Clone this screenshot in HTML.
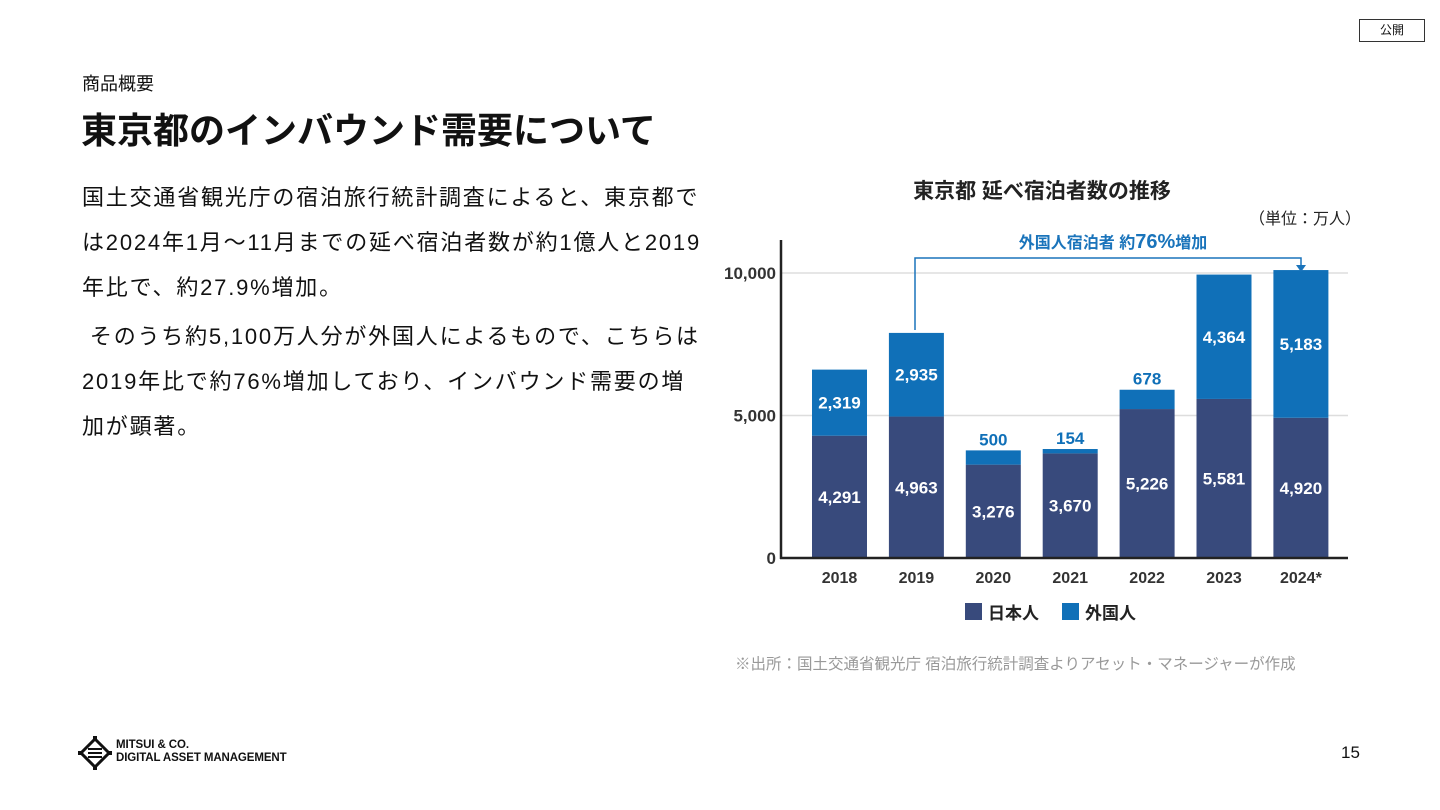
<!DOCTYPE html>
<html><head><meta charset="utf-8">
<style>
body{margin:0;width:1440px;height:810px;background:#fff;font-family:"Liberation Sans","Noto Sans CJK JP",sans-serif;color:#111;position:relative;overflow:hidden}
.abs{position:absolute}
#txt p{margin:0;font-size:22px;line-height:45px;white-space:nowrap;letter-spacing:1.8px}
</style></head><body>
<div class="abs" style="left:1359px;top:19px;width:66px;height:23px;border:1px solid #333;box-sizing:border-box;font-size:12px;text-align:center;line-height:21px">公開</div>
<div class="abs" style="left:82px;top:70px;font-size:18px">商品概要</div>
<div class="abs" style="left:81px;top:102px;font-size:36px;font-weight:bold">東京都のインバウンド需要について</div>
<div id="txt" class="abs" style="left:82px;top:175px;width:640px">
<p>国土交通省観光庁の宿泊旅行統計調査によると、東京都で<br>は2024年1月～11月までの延べ宿泊者数が約1億人と2019<br>年比で、約27.9%増加。</p>
<p style="margin-top:4px">&nbsp;そのうち約5,100万人分が外国人によるもので、こちらは<br>2019年比で約76%増加しており、インバウンド需要の増<br>加が顕著。</p>
</div>
<svg class="abs" style="left:0;top:0" width="1440" height="810" id="chart">
<text x="1042" y="198" text-anchor="middle" font-size="21" font-weight="bold" fill="#222">東京都 延べ宿泊者数の推移</text>
<text x="1361" y="224" text-anchor="end" font-size="16" fill="#222">（単位：万人）</text>
<g id="grid"></g><g id="bars"></g>
<line x1="781" y1="240" x2="781" y2="559" stroke="#222" stroke-width="2.5"/>
<line x1="780" y1="558" x2="1348" y2="558" stroke="#222" stroke-width="2.5"/>
<path d="M915 330 V258 H1301 V268" fill="none" stroke="#1a74bb" stroke-width="1.5"/>
<path d="M1296 265 L1306 265 L1301 272 Z" fill="#1a74bb"/>
<text x="1113" y="248" text-anchor="middle" font-size="16" font-weight="bold" fill="#1a74bb">外国人宿泊者 約<tspan font-size="20">76%</tspan>増加</text>
<rect x="965" y="603" width="17" height="17" fill="#384a7c"/>
<text x="988" y="619" font-size="17" font-weight="bold" fill="#222">日本人</text>
<rect x="1062" y="603" width="17" height="17" fill="#1070b8"/>
<text x="1085" y="619" font-size="17" font-weight="bold" fill="#222">外国人</text>
</svg>
<div class="abs" style="left:735px;top:652px;font-size:15.5px;color:#999;white-space:nowrap">※出所：国土交通省観光庁 宿泊旅行統計調査よりアセット・マネージャーが作成</div>
<svg class="abs" style="left:78px;top:736px" width="34" height="34">
<g fill="none" stroke="#111" stroke-width="3"><path d="M17 3 L31 17 L17 31 L3 17 Z"/><path d="M10 13 H24 M10 17 H24 M10 21 H24" stroke-width="2"/></g>
<path d="M15 0 h4 v4 h-4Z M15 30 h4 v4 h-4Z M0 15 h4 v4 h-4Z M30 15 h4 v4 h-4Z" fill="#111"/>
</svg>
<div class="abs" style="left:116px;top:739px;font-size:11.5px;font-weight:bold;line-height:13px;letter-spacing:-0.1px">MITSUI &amp; CO.<br>DIGITAL ASSET MANAGEMENT</div>
<div class="abs" style="left:1341px;top:743px;font-size:17px">15</div>
<script>
const years=["2018","2019","2020","2021","2022","2023","2024*"];
const japanese=[4291,4963,3276,3670,5226,5581,4920];
const foreign=[2319,2935,500,154,678,4364,5183];
const yTicks=[0,5000,10000];
const NS="http://www.w3.org/2000/svg";
function y(v){return 558-v*0.0285;}
function xc(i){return 839.5+i*76.9;}
function mk(t,a,p){const e=document.createElementNS(NS,t);for(const k in a)e.setAttribute(k,a[k]);p.appendChild(e);return e;}
const grid=document.getElementById('grid'),bars=document.getElementById('bars');
yTicks.forEach(v=>{
  if(v>0){const l=mk('line',{x1:782,x2:1348,y1:y(v),y2:y(v),stroke:'#ddd','stroke-width':1.5},grid);
  
  }
  const t=mk('text',{x:776,y:y(v)+6,'text-anchor':'end','font-size':17,'font-weight':'bold',fill:'#333'},grid);
  t.textContent=v.toLocaleString('en-US');
  
  
});
years.forEach((yr,i)=>{
  const x=xc(i)-27.5,j=japanese[i],f=foreign[i];
  const r1=mk('rect',{x:x,y:y(j),width:55,height:y(0)-y(j),fill:'#384a7c'},bars);
  
  
  const r2=mk('rect',{x:x,y:y(j+f),width:55,height:y(j)-y(j+f),fill:'#1070b8'},bars);
  
  
  const t1=mk('text',{x:xc(i),y:(y(0)+y(j))/2+6,'text-anchor':'middle','font-size':17,'font-weight':'bold',fill:'#fff'},bars);
  t1.textContent=j.toLocaleString('en-US');
  
  
  const small=(y(j)-y(j+f))<22;
  const t2=mk('text',{x:xc(i),y:small?y(j+f)-5:(y(j)+y(j+f))/2+6,'text-anchor':'middle','font-size':17,'font-weight':'bold',fill:small?'#1070b8':'#fff'},bars);
  t2.textContent=f.toLocaleString('en-US');
  
  
  const t3=mk('text',{x:xc(i),y:583,'text-anchor':'middle','font-size':16,'font-weight':'bold',fill:'#333'},bars);
  t3.textContent=yr;
  
  
});
</script>
</body></html>
